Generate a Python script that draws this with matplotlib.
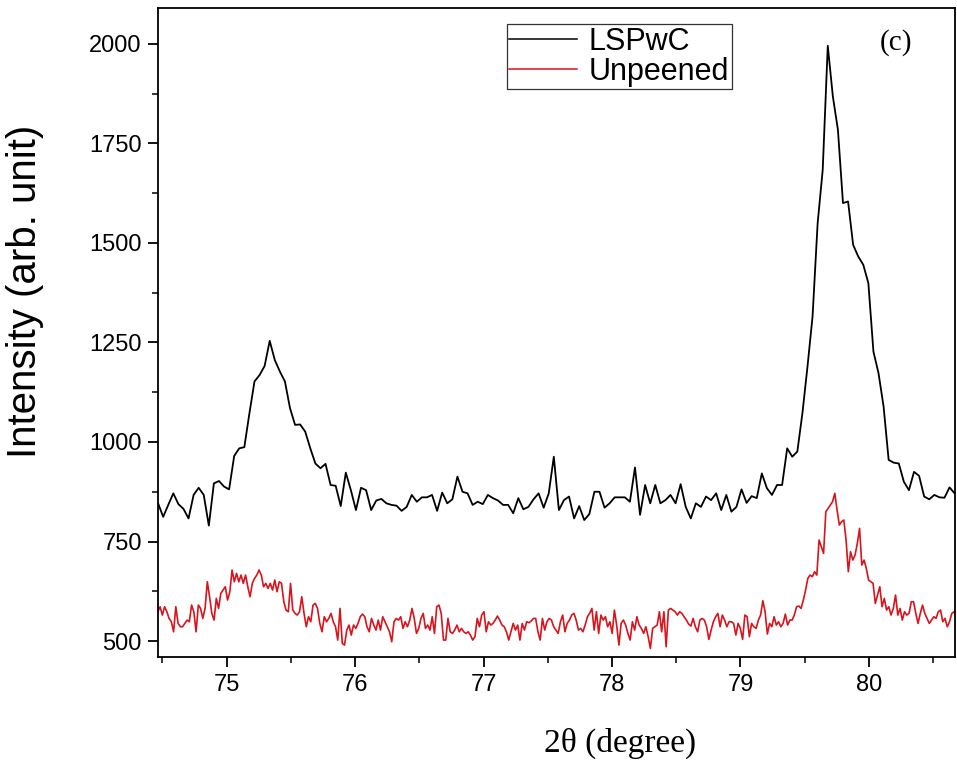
import numpy as np
import matplotlib
matplotlib.use("Agg")
import matplotlib.pyplot as plt
from matplotlib.ticker import MultipleLocator

# ---------------- data ----------------
lspwc_x_range = (74.467, 80.667)
lspwc_y = [
    846, 812, 842, 871, 844, 832, 808, 867, 885, 867, 790, 896, 902, 888, 881,
    965, 984, 987, 1072, 1152, 1168, 1191, 1254, 1206, 1177, 1152, 1085, 1043,
    1044, 1026, 984, 946, 934, 945, 892, 890, 839, 923, 879, 829, 885, 879, 829,
    853, 857, 846, 842, 840,
    827, 837, 867, 850, 861, 861, 867, 827, 873, 846, 856, 913, 875, 871, 842,
    850, 844, 867, 859, 853, 842, 842, 821, 859, 831, 837, 856, 871, 835, 871,
    963, 829, 854, 863, 808, 839, 804, 819, 875, 875, 835, 846, 861, 861, 861,
    850, 936, 817,
    892, 846, 892, 846, 854, 867, 846, 894, 837, 808, 846, 837, 863, 854, 871,
    829, 867, 825, 837, 881, 847, 864, 859, 921, 884, 867, 892, 892, 984, 963,
    976, 1072, 1189, 1315, 1549, 1683, 1995, 1868, 1784, 1600, 1604, 1495, 1466,
    1445, 1399, 1227, 1173, 1089, 955, 948, 946, 900, 879, 925, 915, 863, 856,
    867, 861, 860, 886, 871,
]

unpeened_x_range = (74.465, 80.68)
unpeened_y = [
    573.7, 586.2, 565.3, 586.2, 573.7, 556.9, 548.5, 523.4, 586.2, 544.4, 536,
    536, 544.4, 552.7, 548.5, 590.4, 573.7, 523.4, 590.4, 582, 556.9, 582, 649,
    611.3, 569.5, 552.7, 607.2, 582, 619.7, 628.1, 636.5, 603, 623.9, 678.4, 649,
    670, 649, 665.8, 644.9, 665.8, 636.5, 611.3, 644.9, 657.4, 665.8, 678.4,
    665.8, 636.5, 644.9, 632.3, 644.9, 628.1, 653.2, 623.9, 649, 644.9, 598.8,
    577.9, 573.7, 644.9, 577.9, 569.5, 565.3, 573.7, 611.3, 569.5, 536, 561.1,
    548.5, 590.4, 594.6, 582, 544.4, 523.4, 561.1, 548.5, 556.9, 569.5, 548.5,
    536, 502.5, 582, 494.1, 489.9, 527.6, 540.2, 515, 540.2, 531.8, 544.4, 561.1,
    567.8, 561.1, 536, 523.4, 556.9, 540.2, 527.6, 552.7, 527.6, 561.1, 548.5,
    536, 523.4, 498.3, 548.5, 556.9, 552.7, 561.1, 531.8, 548.5, 536, 552.7, 582,
    556.9, 519.2, 531.8,
    556.9, 569.5, 531.8, 540.2, 527.6, 561.1, 519.2, 586.2, 590.4, 569.5, 502.5,
    502.5, 556.9, 523.4, 519.2, 527.6, 540.2, 523.4, 531.8, 523.4, 519.2, 523.4,
    515, 502.5, 510.9, 556.9, 536, 565.3, 573.7, 523.4, 548.5, 540.2, 544.4,
    552.7, 562.8, 552.7, 540.2, 536, 523.4, 502.5, 523.4, 544.4, 527.6, 540.2,
    502.5, 544.4, 527.6, 548.5, 546, 550.2, 556.9, 556.9, 523.4, 502.5, 556.9,
    527.6, 548.5, 556.9, 552.7, 536, 527.6, 519.2, 548.5, 565.3, 523.4, 544.4,
    552.7, 565.3, 569.5, 552.7, 527.6, 531.8, 523.4, 540.2, 561.1, 569.5, 582,
    527.6, 573.7, 519.2, 565.3, 552.7, 561.1, 536, 548.5, 519.2, 577.9, 540.2,
    489.9, 544.4, 552.7, 540.2, 519.2, 502.5, 548.5, 527.6, 561.1, 540.2, 531.8,
    519.2, 536, 510.9, 481.5, 531.8, 536, 540.2, 573.7, 523.4, 573.7, 485.7,
    577.9, 582, 577.9, 573.7, 565.3, 573.7, 569.5, 561.1, 552.7, 542.7, 537.6,
    556.9, 536, 523.4, 552.7,
    556.9, 552.7, 536, 504.2, 527.6, 548.6, 561.1, 569.5, 536, 565.3, 552.7, 536,
    548.6, 548.6, 544.4, 515.1, 544.4, 531.8, 504.2, 565.3, 561.1, 510.9, 544.4,
    536, 531.8, 552.7, 565.3, 601.3, 573.7, 517.6, 544.4, 536, 561.1, 540.2,
    548.6, 536, 544.4, 567.8, 540.2, 552.7, 552.7, 565.3, 586.3, 587.9, 582, 603,
    628.1, 657.4, 665.8, 661.6, 674.2, 665.8, 753.8, 737, 720.3, 824.9, 833.3,
    841.7, 850.1, 871, 829.1, 791.4, 799.8, 804, 753.8, 674.2, 724.4, 703.5,
    716.1, 745.4, 783.1, 690.9, 703.5, 682.6, 653.3, 649.1, 644.9, 594.6, 615.6,
    636.5, 586.3, 607.2, 577.9, 586.3, 565.3, 582, 615.6, 565.3, 582, 552.7,
    573.7, 565.3, 569.5, 598.8, 598.8, 569.5, 544.4, 569.5, 590.4, 569.5, 557,
    544.4, 552.7, 561.1, 557, 573.7, 577.9, 548.6, 557, 536, 548.6, 569.5, 573.7,
    561.1,
]

series_labels = ["LSPwC", "Unpeened"]
x_ticks = [75, 76, 77, 78, 79, 80]
y_ticks = [500, 750, 1000, 1250, 1500, 1750, 2000]
x_label = "2θ (degree)"
y_label = "Intensity (arb. unit)"
panel_tag = "(c)"

# ---------------- figure ----------------
fig = plt.figure(figsize=(9.57, 7.66), dpi=100)
ax = fig.add_axes([0.1656, 0.1423, 0.8323, 0.8473])

lx = np.linspace(lspwc_x_range[0], lspwc_x_range[1], len(lspwc_y))
ux = np.linspace(unpeened_x_range[0], unpeened_x_range[1], len(unpeened_y))

ax.plot(lx, lspwc_y, color="black", lw=1.3, label=series_labels[0])
ax.plot(ux, unpeened_y, color="#d8141c", lw=1.2, label=series_labels[1])

ax.set_xlim(74.47, 80.67)
ax.set_ylim(460, 2090)
ax.set_xticks(x_ticks)
ax.set_yticks(y_ticks)
ax.xaxis.set_minor_locator(MultipleLocator(0.5))
ax.yaxis.set_minor_locator(MultipleLocator(125))

sans = "Liberation Sans"
serif = "Liberation Serif"
for lab in ax.get_xticklabels() + ax.get_yticklabels():
    lab.set_fontfamily(sans)
    lab.set_fontsize(17)

ax.tick_params(which="major", direction="out", length=7, width=1.3,
               top=False, right=False, pad=5)
ax.tick_params(which="minor", direction="out", length=4, width=1.1,
               top=False, right=False)
for sp in ax.spines.values():
    sp.set_linewidth(1.3)

ax.set_xlabel(x_label, fontfamily=serif, fontsize=24, va="center")
ax.xaxis.set_label_coords(0.58, -0.1325)
ax.set_ylabel(y_label, fontfamily=sans, fontsize=29, va="center")
ax.yaxis.set_label_coords(-0.1676, 0.564)

leg = ax.legend(loc="upper left", bbox_to_anchor=(0.4375, 0.975),
                borderaxespad=0, frameon=True, fancybox=False,
                edgecolor="black", prop={"family": sans, "size": 22},
                handlelength=2.2, handletextpad=0.4, labelspacing=0.0,
                borderpad=0.08)
leg.get_frame().set_linewidth(0.9)
for h in leg.get_lines():
    h.set_linewidth(1.1)

ax.text(0.926, 0.946, panel_tag, transform=ax.transAxes, ha="center",
        va="center", fontfamily=serif, fontsize=21)

fig.savefig("out.png", dpi=100)
